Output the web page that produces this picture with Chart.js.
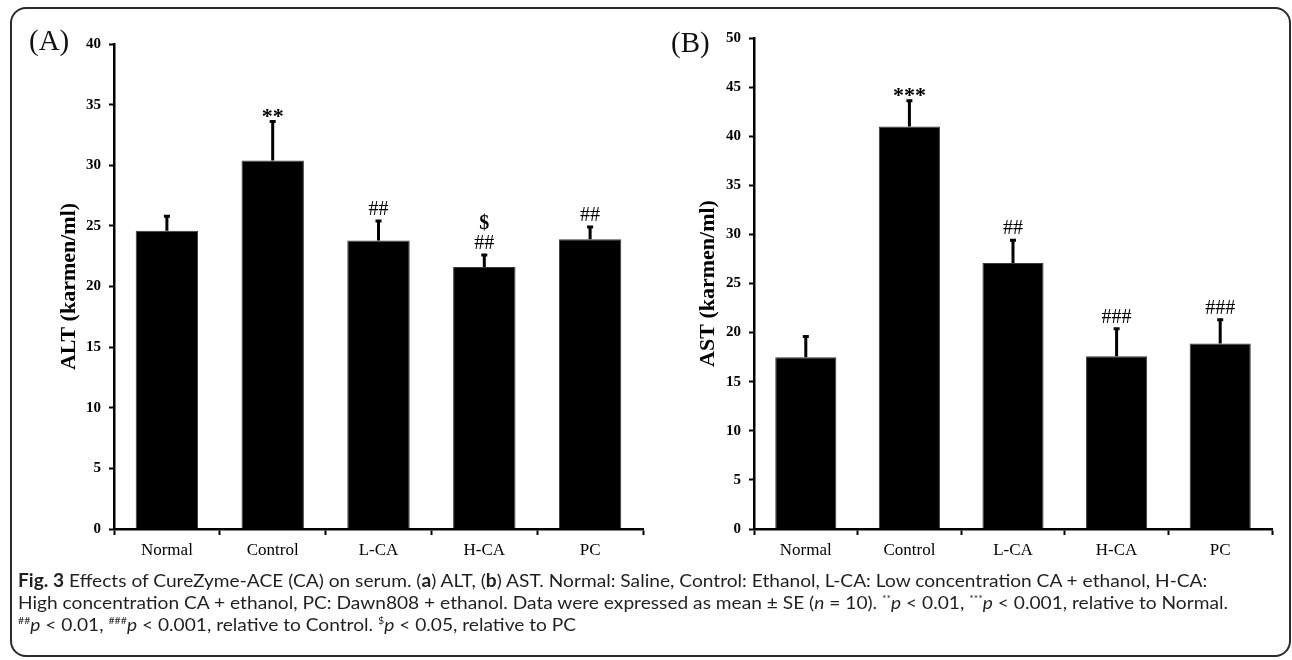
<!DOCTYPE html>
<html>
<head>
<meta charset="utf-8">
<script src="https://cdn.jsdelivr.net/npm/chart.js@4.4.0/dist/chart.umd.min.js"></script>
<style>
  body { margin: 0; background: #fff; width: 1292px; height: 660px; overflow: hidden; position: relative; }
  .frame { position: absolute; left: 10px; top: 7px; width: 1281px; height: 650px; border: 2px solid #2a2a2a; border-radius: 16px; box-sizing: border-box; }
  .wrap { position: absolute; top: 0; }
  .panel { position: absolute; font-family: "Liberation Serif", serif; font-size: 29px; color: #111; line-height: 1; }
  .caption { position: absolute; left: 18px; top: 569px; font-family: "Lato", sans-serif; font-size: 18px; line-height: 22px; color: #231f20; white-space: nowrap; transform-origin: 0 0; }
  .caption sup { font-size: 10px; vertical-align: 7px; line-height: 0; }
</style>
</head>
<body>
<div class="frame"></div>
<div class="wrap" style="left:0"><canvas id="chart-a" width="660" height="570"></canvas></div>
<div class="wrap" style="left:640px"><canvas id="chart-b" width="652" height="570"></canvas></div>
<div class="panel" style="left:29px; top:26px">(A)</div>
<div class="panel" style="left:671px; top:28px">(B)</div>
<div class="caption" id="caption">
  <div><b>Fig. 3</b> Effects of CureZyme-ACE (CA) on serum. (<b>a</b>) ALT, (<b>b</b>) AST. Normal: Saline, Control: Ethanol, L-CA: Low concentration CA + ethanol, H-CA:</div>
  <div>High concentration CA + ethanol, PC: Dawn808 + ethanol. Data were expressed as mean ± SE (<i>n</i> = 10). <sup>**</sup><i>p</i> &lt; 0.01, <sup>***</sup><i>p</i> &lt; 0.001, relative to Normal.</div>
  <div><sup>##</sup><i>p</i> &lt; 0.01, <sup>###</sup><i>p</i> &lt; 0.001, relative to Control. <sup>$</sup><i>p</i> &lt; 0.05, relative to PC</div>
</div>
<script>
const groups = ["Normal", "Control", "L-CA", "H-CA", "PC"]

// (A) ALT
const altMean = [24.6, 30.4, 23.8, 21.6, 23.9]
const altSE = [1.2, 3.2, 1.6, 1.0, 1.0]
const altMarks = ["", "**", "##", "##", "##"]
const altMarks2 = ["", "", "", "$", ""]

// (B) AST
const astMean = [17.5, 41.0, 27.1, 17.6, 18.9]
const astSE = [2.1, 2.6, 2.3, 2.8, 2.4]
const astMarks = ["", "***", "##", "###", "###"]
const astMarks2 = ["", "", "", "", ""]

// fit the caption to the width of the original
const cap = document.getElementById("caption")
const firstLine = cap.firstElementChild.getBoundingClientRect().width
cap.style.transform = "scaleX(" + (1210 / firstLine) + ")"

const errorBars = {
  id: "errorBars",
  afterDatasetsDraw(chart, args, opts) {
    const { ctx } = chart
    const y = chart.scales.y
    const meta = chart.getDatasetMeta(0)
    ctx.save()
    meta.data.forEach((bar, i) => {
      const top = y.getPixelForValue(opts.mean[i])
      const errTop = y.getPixelForValue(opts.mean[i] + opts.se[i])
      ctx.strokeStyle = "#000"
      ctx.lineWidth = 3
      ctx.beginPath()
      ctx.moveTo(bar.x, top)
      ctx.lineTo(bar.x, errTop)
      ctx.moveTo(bar.x - 3, errTop)
      ctx.lineTo(bar.x + 3, errTop)
      ctx.stroke()

      const mark = opts.marks[i]
      if (!mark) return
      ctx.fillStyle = "#000"
      ctx.textAlign = "center"
      ctx.textBaseline = "alphabetic"
      const stars = mark[0] === "*"
      ctx.font = stars ? "bold 22px 'Liberation Serif'" : "20px 'Liberation Serif'"
      const base = stars ? errTop + 1 : errTop - 6
      ctx.fillText(mark, bar.x, base)
      if (opts.marks2[i]) {
        ctx.font = "bold 20px 'Liberation Serif'"
        ctx.fillText(opts.marks2[i], bar.x, base - 20)
      }
    })
    ctx.restore()
  },
}

function makeChart(id, mean, se, marks, marks2, yMax, title, pad, titlePad) {
  return new Chart(document.getElementById(id), {
    type: "bar",
    data: {
      labels: groups,
      datasets: [
        {
          data: mean,
          backgroundColor: "#000",
          borderColor: "#3a3a3a",
          borderWidth: 1,
          barPercentage: 0.59,
          categoryPercentage: 1,
        },
      ],
    },
    options: {
      responsive: false,
      animation: false,
      layout: { padding: pad },
      plugins: {
        legend: { display: false },
        tooltip: { enabled: false },
        errorBars: { mean: mean, se: se, marks: marks, marks2: marks2 },
      },
      scales: {
        x: {
          grid: { drawOnChartArea: false, tickLength: 6, tickWidth: 2, tickColor: "#000" },
          border: { color: "#000", width: 2.5 },
          ticks: { color: "#000", padding: 5, font: { family: "'Liberation Serif'", size: 17 } },
          afterFit(s) {
            s.height = 41
            s.paddingLeft = 0
            s.paddingRight = 0
          },
        },
        y: {
          min: 0,
          max: yMax,
          grid: { drawOnChartArea: false, tickLength: 5, tickWidth: 2, tickColor: "#000" },
          border: { color: "#000", width: 2.5 },
          ticks: { stepSize: 5, color: "#000", padding: 8, font: { family: "'Liberation Serif'", size: 15, weight: "bold" } },
          title: {
            display: true,
            text: title,
            color: "#000",
            padding: { top: titlePad },
            font: { family: "'Liberation Serif'", size: 22, weight: "bold" },
          },
          afterFit(s) {
            s.width = 114
            s.paddingTop = 0
            s.paddingBottom = 0
          },
        },
      },
    },
    plugins: [errorBars],
  })
}

makeChart("chart-a", altMean, altSE, altMarks, altMarks2, 40, "ALT (karmen/ml)", { left: 0, right: 17, top: 44, bottom: 0 }, 56)
makeChart("chart-b", astMean, astSE, astMarks, astMarks2, 50, "AST (karmen/ml)", { left: 0, right: 20, top: 38, bottom: 0 }, 55)
</script>
</body>
</html>
